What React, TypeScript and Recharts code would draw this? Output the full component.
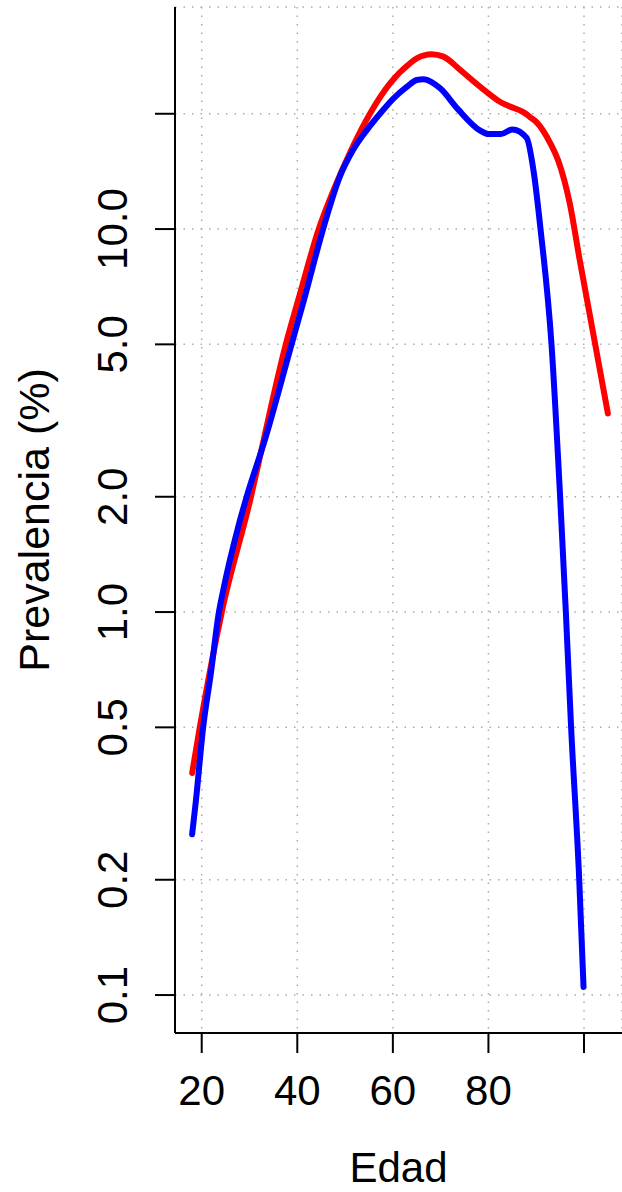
import React from 'react';
import { LineChart, Line, XAxis, YAxis, CartesianGrid } from 'recharts';

// Prevalence by age, two series on a log y axis (R base-graphics look).

const redAges = [18, 19.6, 24.2, 30.3, 31.8, 37.6, 40.2, 44.5, 47.9, 51.0, 55.2, 59.4, 63.6, 65.0, 68.1, 70.6, 73.7, 75.4, 79.6, 82.4, 84.5, 87.6, 88.7, 90.1, 92.9, 94.6, 97.0, 99.1, 105.0];
const redValues = [0.38, 0.5, 1.0, 2.0, 2.42, 5.0, 6.53, 10.0, 12.9, 15.8, 20.0, 24.0, 27.1, 27.9, 28.6, 28.2, 26.3, 25.2, 22.8, 21.5, 20.9, 20.1, 19.6, 19.0, 16.8, 15.1, 11.7, 8.3, 3.3];

const blueAges = [18, 18.8, 20.3, 21.9, 23.6, 24.5, 27.7, 29.4, 33.2, 38.8, 41.4, 45.4, 48.9, 51.7, 54.5, 57.3, 60.1, 62.9, 65.0, 66.4, 68.1, 69.9, 73.7, 78.2, 80.0, 82.6, 85.0, 88.0, 89.4, 90.9, 93.2, 95.0, 96.2, 97.3, 99.0, 99.9];
const blueValues = [0.263, 0.323, 0.5, 0.69, 1.0, 1.14, 1.68, 2.0, 2.81, 5.0, 6.53, 10.0, 13.7, 16.1, 18.1, 20.0, 21.9, 23.5, 24.5, 24.6, 24.2, 23.3, 20.5, 18.1, 17.7, 17.7, 18.2, 17.3, 14.3, 10.0, 5.0, 2.0, 1.0, 0.5, 0.2, 0.105];

const xTicks = [20, 40, 60, 80, 100];
const xTickLabels = ['20', '40', '60', '80', ''];
const yTicks = [0.1, 0.2, 0.5, 1, 2, 5, 10, 20];
const yTickLabels = ['0.1', '0.2', '0.5', '1.0', '2.0', '5.0', '10.0', ''];

const redData = redAges.map((age, i) => ({ age, value: redValues[i] }));
const blueData = blueAges.map((age, i) => ({ age, value: blueValues[i] }));

const FONT = '"Liberation Sans", Arial, Helvetica, sans-serif';

function YTick(props: any) {
  const { x, y, payload } = props;
  const label = yTickLabels[yTicks.indexOf(payload.value)] ?? '';
  return (
    <text
      x={x}
      y={y}
      transform={`rotate(-90 ${x} ${y})`}
      textAnchor="middle"
      fontSize={42}
      fontFamily={FONT}
      fill="#000"
    >
      {label}
    </text>
  );
}

function XTick(props: any) {
  const { x, y, payload } = props;
  const label = xTickLabels[xTicks.indexOf(payload.value)] ?? '';
  return (
    <text x={x} y={y + 30} textAnchor="middle" fontSize={42} fontFamily={FONT} fill="#000">
      {label}
    </text>
  );
}

export default function App() {
  return (
    <div style={{ position: 'absolute', left: 0, top: 0, background: '#fff' }}>
      <LineChart width={622} height={1192} margin={{ top: 7, right: 0, bottom: 0, left: 0 }}>
        <CartesianGrid stroke="#ababab" strokeWidth={1.5} strokeDasharray="1.5 7" />
        <XAxis
          dataKey="age"
          type="number"
          domain={[14.41, 107.95]}
          allowDataOverflow
          ticks={xTicks}
          height={159}
          tickSize={20}
          tickMargin={22}
          tick={<XTick />}
          axisLine={{ stroke: '#000', strokeWidth: 2 }}
          tickLine={{ stroke: '#000', strokeWidth: 2 }}
          label={{
            content: (p: any) => {
              const vb = p.viewBox;
              return (
                <text
                  x={vb.x + vb.width / 2}
                  y={1182}
                  textAnchor="middle"
                  fontSize={42}
                  fontFamily={FONT}
                  fill="#000"
                >
                  Edad
                </text>
              );
            },
          }}
        />
        <XAxis
          xAxisId="top"
          orientation="top"
          dataKey="age"
          type="number"
          domain={[14.41, 107.95]}
          height={0}
          tick={false}
          tickLine={false}
          axisLine={{ stroke: '#000', strokeWidth: 2 }}
        />
        <YAxis
          type="number"
          scale="log"
          domain={[0.0796, 38]}
          allowDataOverflow
          ticks={yTicks}
          width={175}
          tickSize={20}
          tickMargin={28}
          tick={<YTick />}
          axisLine={{ stroke: '#000', strokeWidth: 2 }}
          tickLine={{ stroke: '#000', strokeWidth: 2 }}
          label={{
            content: (p: any) => {
              const vb = p.viewBox;
              const cy = vb.y + vb.height / 2;
              return (
                <text
                  x={49}
                  y={cy}
                  transform={`rotate(-90 49 ${cy})`}
                  textAnchor="middle"
                  fontSize={43}
                  fontFamily={FONT}
                  fill="#000"
                >
                  Prevalencia (%)
                </text>
              );
            },
          }}
        />
        <Line
          data={redData}
          dataKey="value"
          type="monotone"
          stroke="#ff0000"
          strokeWidth={6}
          strokeLinecap="round"
          strokeLinejoin="round"
          dot={false}
          isAnimationActive={false}
        />
        <Line
          data={blueData}
          dataKey="value"
          type="monotone"
          stroke="#0000ff"
          strokeWidth={6}
          strokeLinecap="round"
          strokeLinejoin="round"
          dot={false}
          isAnimationActive={false}
        />
      </LineChart>
    </div>
  );
}
